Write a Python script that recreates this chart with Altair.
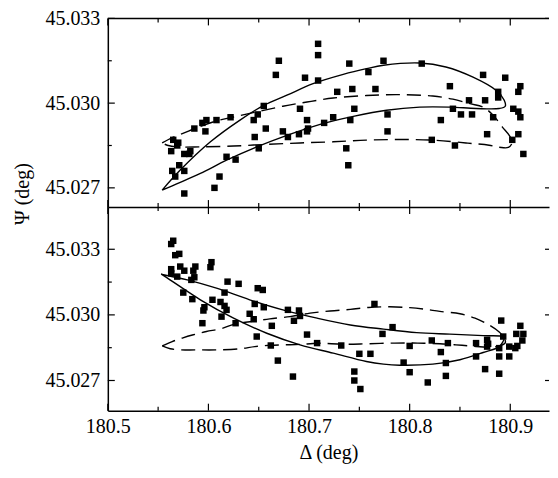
import altair as alt
import pandas as pd

FONT = "Liberation Serif"

x_domain = [180.5, 180.9385]
top_y_domain = [45.02632, 45.033]
bot_y_domain = [45.02562, 45.03493]

x_major = [180.5, 180.6, 180.7, 180.8, 180.9]
x_minor = [180.55, 180.65, 180.75, 180.85]
y_major = [45.027, 45.030, 45.033]
y_minor = [45.0285, 45.0315]

x_title = "Δ (deg)"
y_title = ["Ψ (deg)"]

top_points = [
    (180.709, 45.0321), (180.709, 45.0317), (180.670, 45.0315), (180.667, 45.0310),
    (180.740, 45.0314), (180.774, 45.0315), (180.812, 45.0314), (180.759, 45.0311),
    (180.696, 45.0309), (180.709, 45.0308), (180.873, 45.0310), (180.895, 45.0309),
    (180.910, 45.0306), (180.908, 45.0304), (180.840, 45.0306), (180.743, 45.0305),
    (180.766, 45.0305), (180.728, 45.0304), (180.888, 45.0304), (180.888, 45.0302),
    (180.859, 45.0301), (180.875, 45.0301), (180.843, 45.0298), (180.851, 45.0296),
    (180.862, 45.0296), (180.831, 45.0294), (180.883, 45.0295), (180.903, 45.0298),
    (180.908, 45.0297), (180.910, 45.0295), (180.908, 45.0289), (180.902, 45.0287),
    (180.913, 45.0282), (180.877, 45.0289), (180.845, 45.0285), (180.822, 45.0287),
    (180.778, 45.0296), (180.778, 45.0290), (180.745, 45.0298), (180.741, 45.0294),
    (180.737, 45.0284), (180.739, 45.0278), (180.724, 45.0295), (180.715, 45.0293),
    (180.698, 45.0294), (180.699, 45.0291), (180.698, 45.0290), (180.691, 45.0298),
    (180.690, 45.0289), (180.679, 45.0288), (180.674, 45.0290), (180.655, 45.0299),
    (180.649, 45.0296), (180.645, 45.0294), (180.657, 45.0291), (180.646, 45.0288),
    (180.650, 45.0284), (180.622, 45.0295), (180.608, 45.0294), (180.598, 45.0294),
    (180.594, 45.0293), (180.597, 45.0290), (180.586, 45.0291), (180.618, 45.0281),
    (180.627, 45.0280), (180.611, 45.0274), (180.606, 45.0270), (180.576, 45.0268),
    (180.565, 45.0287), (180.570, 45.0286), (180.563, 45.0283), (180.576, 45.0282),
    (180.582, 45.0283), (180.581, 45.0282), (180.571, 45.0278), (180.564, 45.0276),
    (180.576, 45.0276), (180.567, 45.0274), (180.569, 45.0285),
]

bottom_points = [
    (180.565, 45.03339), (180.563, 45.03324), (180.571, 45.03279), (180.567, 45.03273),
    (180.563, 45.03209), (180.563, 45.03190), (180.572, 45.03221), (180.576, 45.03202),
    (180.569, 45.03175), (180.587, 45.03221), (180.585, 45.03202), (180.586, 45.03172),
    (180.583, 45.03160), (180.603, 45.03241), (180.602, 45.03218), (180.575, 45.03102),
    (180.584, 45.03072), (180.596, 45.03035), (180.595, 45.03020), (180.594, 45.02962),
    (180.604, 45.03069), (180.612, 45.03059), (180.616, 45.03102), (180.619, 45.03152),
    (180.630, 45.03142), (180.616, 45.03041), (180.618, 45.03023), (180.613, 45.02992),
    (180.627, 45.02962), (180.641, 45.03005), (180.645, 45.02980), (180.646, 45.03050),
    (180.649, 45.03122), (180.654, 45.03114), (180.655, 45.03035), (180.648, 45.02901),
    (180.663, 45.02950), (180.662, 45.02860), (180.669, 45.02791), (180.684, 45.02718),
    (180.679, 45.03023), (180.685, 45.02973), (180.690, 45.03020), (180.691, 45.02995),
    (180.698, 45.02910), (180.708, 45.02871), (180.765, 45.03050), (180.783, 45.02944),
    (180.773, 45.02913), (180.732, 45.02860), (180.750, 45.02822), (180.761, 45.02822),
    (180.745, 45.02741), (180.745, 45.02700), (180.751, 45.02661), (180.794, 45.02782),
    (180.800, 45.02858), (180.800, 45.02738), (180.818, 45.02691), (180.822, 45.02883),
    (180.831, 45.02830), (180.836, 45.02780), (180.836, 45.02721), (180.838, 45.02871),
    (180.866, 45.02871), (180.866, 45.02810), (180.875, 45.02752), (180.877, 45.02886),
    (180.877, 45.02855), (180.878, 45.02868), (180.891, 45.02974), (180.893, 45.02901),
    (180.889, 45.02848), (180.889, 45.02810), (180.889, 45.02731), (180.899, 45.02855),
    (180.899, 45.02810), (180.906, 45.02913), (180.910, 45.02950), (180.913, 45.02913),
    (180.912, 45.02883), (180.907, 45.02858), (180.905, 45.02848),
]

top_solid = [
    (180.554, 45.02692), (180.572, 45.02763), (180.602, 45.02863), (180.631, 45.02939),
    (180.655, 45.02992), (180.678, 45.03028), (180.704, 45.03069), (180.734, 45.03102),
    (180.757, 45.03122), (180.774, 45.03134), (180.810, 45.03142), (180.836, 45.03128),
    (180.863, 45.03092), (180.886, 45.03045), (180.894, 45.03010), (180.895, 45.02989),
    (180.889, 45.02981), (180.866, 45.02981), (180.840, 45.02986), (180.810, 45.02986),
    (180.777, 45.02975), (180.744, 45.02953), (180.711, 45.02925), (180.678, 45.02886),
    (180.648, 45.02845), (180.618, 45.02798), (180.592, 45.02751), (180.569, 45.02715),
    (180.554, 45.02692),
]

top_dashed = [
    (180.554, 45.02859), (180.564, 45.02878), (180.574, 45.02892), (180.592, 45.02918),
    (180.608, 45.02937), (180.625, 45.02951), (180.648, 45.02969), (180.674, 45.02989),
    (180.698, 45.03004), (180.724, 45.03018), (180.757, 45.03027), (180.790, 45.03030),
    (180.823, 45.03025), (180.843, 45.03014), (180.860, 45.02998), (180.873, 45.02986),
    (180.883, 45.02957), (180.892, 45.02916), (180.899, 45.02886), (180.902, 45.02862),
    (180.898, 45.02843), (180.889, 45.02844), (180.879, 45.02851), (180.856, 45.02859),
    (180.823, 45.02869), (180.790, 45.02871), (180.757, 45.02869), (180.724, 45.02863),
    (180.691, 45.02859), (180.658, 45.02854), (180.625, 45.02848), (180.592, 45.02845),
    (180.569, 45.02845), (180.559, 45.02851), (180.554, 45.02859),
]

bottom_solid = [
    (180.553, 45.03186), (180.579, 45.03160), (180.608, 45.03122), (180.641, 45.03069),
    (180.674, 45.03023), (180.708, 45.02985), (180.741, 45.02954), (180.774, 45.02935),
    (180.807, 45.02919), (180.840, 45.02912), (180.873, 45.02905), (180.893, 45.02901),
    (180.894, 45.02894), (180.889, 45.02855), (180.873, 45.02828), (180.850, 45.02795),
    (180.823, 45.02775), (180.790, 45.02770), (180.774, 45.02775), (180.757, 45.02787),
    (180.724, 45.02825), (180.691, 45.02863), (180.658, 45.02916), (180.625, 45.02985),
    (180.592, 45.03069), (180.572, 45.03129), (180.557, 45.03175), (180.553, 45.03186),
]

bottom_dashed = [
    (180.554, 45.02858), (180.564, 45.02878), (180.574, 45.02894), (180.585, 45.02909),
    (180.598, 45.02924), (180.612, 45.02936), (180.626, 45.02958), (180.648, 45.02973),
    (180.661, 45.02982), (180.681, 45.02992), (180.701, 45.03008), (180.721, 45.03018),
    (180.741, 45.03025), (180.759, 45.03034), (180.780, 45.03037), (180.800, 45.03033),
    (180.815, 45.03026), (180.830, 45.03016), (180.850, 45.03005), (180.865, 45.02985),
    (180.879, 45.02954), (180.889, 45.02922), (180.894, 45.02895), (180.895, 45.02872),
    (180.889, 45.02858), (180.879, 45.02852), (180.860, 45.02858), (180.846, 45.02863),
    (180.830, 45.02868), (180.808, 45.02871), (180.785, 45.02871), (180.758, 45.02868),
    (180.734, 45.02866), (180.709, 45.02870), (180.691, 45.02865), (180.676, 45.02863),
    (180.661, 45.02861), (180.646, 45.02855), (180.631, 45.02845), (180.608, 45.02840),
    (180.587, 45.02840), (180.572, 45.02840), (180.562, 45.02845), (180.554, 45.02858),
]

W = 442
H_TOP = 189
H_BOT = 204
MAJ = 7
MIN = 4


def pts(pairs):
    return pd.DataFrame(pairs, columns=["x", "y"])


def curve(pairs):
    df = pd.DataFrame(pairs, columns=["x", "y"])
    df["i"] = range(len(df))
    return df


def panel(points, solid, dashed, ydom, H, bottom):
    xs = alt.Scale(domain=x_domain, nice=False, zero=False)
    ys = alt.Scale(domain=ydom, nice=False, zero=False)
    if bottom:
        xax = alt.Axis(values=x_major, format=".1f", labelFlush=False, ticks=False,
                       tickSize=0, grid=False, domainColor="black", domainWidth=1.5,
                       labelPadding=6, title=x_title, titlePadding=6)
    else:
        xax = alt.Axis(labels=False, ticks=False, tickSize=0, grid=False,
                       domainColor="black", domainWidth=1.5, title=None)
    yax = alt.Axis(values=y_major, format=".3f", ticks=False, tickSize=0, grid=False,
                   domainColor="black", domainWidth=1.5, labelPadding=8, title=None)

    X = lambda f: alt.X(f, type="quantitative", scale=xs, axis=xax)
    Y = lambda f: alt.Y(f, type="quantitative", scale=ys, axis=yax)

    layers = []
    layers.append(alt.Chart(pts(points)).mark_square(size=42, color="black", opacity=1)
                  .encode(x=X("x"), y=Y("y")))
    layers.append(alt.Chart(curve(solid)).mark_line(color="black", strokeWidth=1.4,
                                                    interpolate="catmull-rom")
                  .encode(x=X("x"), y=Y("y"), order="i:Q"))
    layers.append(alt.Chart(curve(dashed)).mark_line(color="black", strokeWidth=1.4,
                                                     strokeDash=[14, 7],
                                                     interpolate="catmull-rom")
                  .encode(x=X("x"), y=Y("y"), order="i:Q"))

    xmaj = pd.DataFrame({"v": x_major})
    xmin = pd.DataFrame({"v": x_minor})
    ymaj = pd.DataFrame({"v": y_major})
    ymin = pd.DataFrame({"v": y_minor})
    for df, L in ((xmaj, MAJ), (xmin, MIN)):
        layers.append(alt.Chart(df).mark_rule(color="black", strokeWidth=1.2)
                      .encode(x=X("v"), y=alt.value(0), y2=alt.value(L)))
        layers.append(alt.Chart(df).mark_rule(color="black", strokeWidth=1.2)
                      .encode(x=X("v"), y=alt.value(H), y2=alt.value(H - L)))
    for df, L in ((ymaj, MAJ), (ymin, MIN)):
        layers.append(alt.Chart(df).mark_rule(color="black", strokeWidth=1.2)
                      .encode(y=Y("v"), x=alt.value(0), x2=alt.value(L)))
    layers.append(alt.Chart(ymaj).mark_rule(color="black", strokeWidth=1.2)
                  .encode(y=Y("v"), x=alt.value(W), x2=alt.value(W - 4)))

    if not bottom:
        frame = pd.DataFrame({"v": [x_domain[0]]})
        layers.append(alt.Chart(frame).mark_rule(color="black", strokeWidth=1.5)
                      .encode(x=alt.value(0), x2=alt.value(W), y=alt.value(0)))
        layers.append(alt.Chart(pd.DataFrame({"t": y_title})).mark_text(
            angle=270, font=FONT, fontSize=20, color="black", align="center",
            baseline="middle").encode(x=alt.value(-85), y=alt.value(176), text="t:N"))

    return alt.layer(*layers).properties(width=W, height=H)


top = panel(top_points, top_solid, top_dashed, top_y_domain, H_TOP, False)
bot = panel(bottom_points, bottom_solid, bottom_dashed, bot_y_domain, H_BOT, True)

chart = (
    alt.vconcat(top, bot, spacing=0, bounds="flush")
    .properties(padding={"left": 5, "top": 0, "right": 0, "bottom": 4})
    .configure_view(stroke=None)
    .configure_axis(labelFont=FONT, titleFont=FONT, labelFontSize=20, titleFontSize=20,
                    titleFontWeight="normal", labelColor="black", titleColor="black")
)

chart.save("out.html", embed_options={"renderer": "svg", "actions": False})
